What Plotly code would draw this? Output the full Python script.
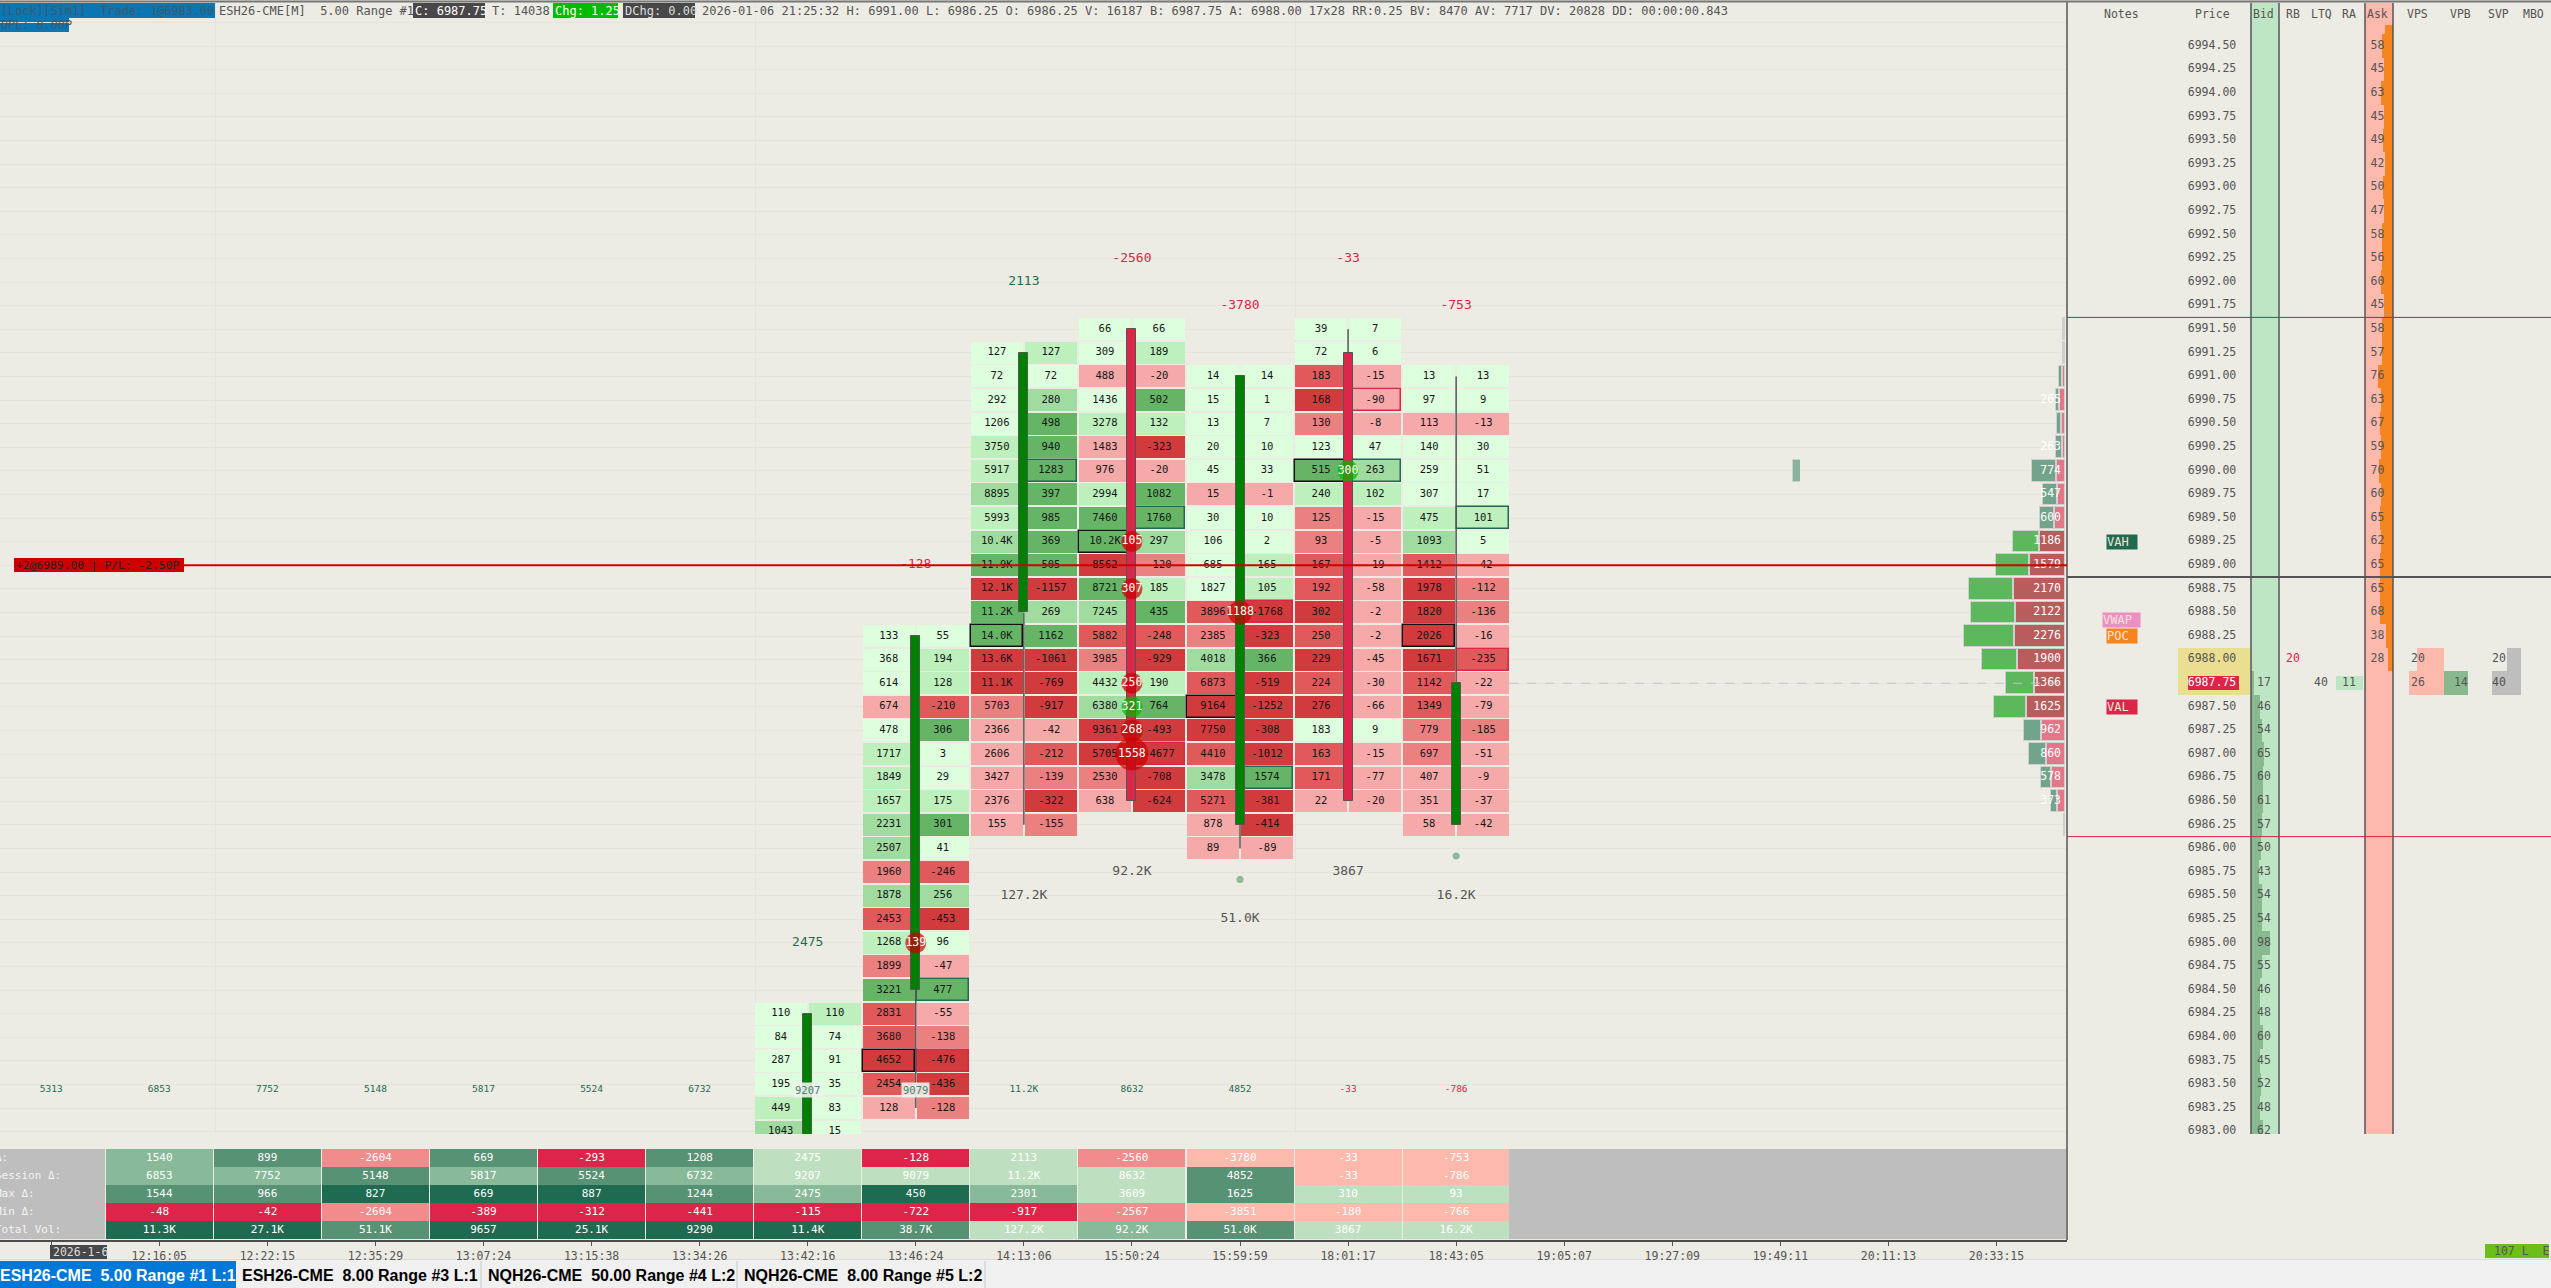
import plotly.graph_objects as go

# ---------- geometry helpers (page pixels -> axis units) ----------
W, H = 2551, 1288
def fx(x): return x / W
def fy(y): return 1 - y / H
def P(y): return 6994.5 - (y - 46) / 23.6 * 0.25
def I(x): return (x - 159.3) / 108.07

MONO = "DejaVu Sans Mono"
BG = "#ECEBE4"
GRID = "#E4E4DC"
DARK = "#555555"
TEAL = "#1F6B52"
CRIMSON = "#DC2549"

# ---------- footprint data ----------
bar6_top = 6984.25
bar6_bid = [110, 84, 287, 195, 449, 1043]
bar6_ask = [110, 74, 91, 35, 83, 15]
bar6_bid_shade = [1, 1, 1, 1, 2, 3]
bar6_ask_shade = [2, 1, 1, 1, 1, 1]

bar7_top = 6988.25
bar7_bid = [133, 368, 614, 674, 478, 1717, 1849, 1657, 2231, 2507, 1960, 1878, 2453, 1268, 1899, 3221, 2831, 3680, 4652, 2454, 128]
bar7_ask = [55, 194, 128, -210, 306, 3, 29, 175, 301, 41, -246, 256, -453, 96, -47, 477, -55, -138, -476, -436, -128]
bar7_bid_shade = [1, 1, 1, -1, 1, 2, 2, 2, 3, 3, -2, 3, -3, 2, -2, 4, -3, -3, -4, -3, -1]
bar7_ask_shade = [1, 2, 2, -3, 4, 1, 1, 2, 4, 1, -3, 3, -4, 1, -1, 4, -1, -2, -4, -4, -2]

bar8_top = 6991.25
bar8_bid = [127, 72, 292, 1206, 3750, 5917, 8895, 5993, "10.4K", "11.9K", "12.1K", "11.2K", "14.0K", "13.6K", "11.1K", 5703, 2366, 2606, 3427, 2376, 155]
bar8_ask = [127, 72, 280, 498, 940, 1283, 397, 985, 369, 505, -1157, 269, 1162, -1061, -769, -917, -42, -212, -139, -322, -155]
bar8_bid_shade = [1, 1, 1, 1, 2, 2, 3, 2, 3, 4, -4, 4, 4, -4, -4, -2, -1, -1, -1, -1, -1]
bar8_ask_shade = [2, 1, 3, 4, 4, 4, 4, 4, 4, 4, -4, 3, 4, -4, -4, -4, -1, -3, -2, -4, -2]

bar9_top = 6991.50
bar9_bid = [66, 309, 488, 1436, 3278, 1483, 976, 2994, 7460, "10.2K", 8562, 8721, 7245, 5882, 3985, 4432, 6380, 9361, 5705, 2530, 638]
bar9_ask = [66, 189, -20, 502, 132, -323, -20, 1082, 1760, 297, -120, 185, 435, -248, -929, 190, 764, -493, -4677, -708, -624]
bar9_bid_shade = [1, 1, -1, 1, 2, -1, -1, 2, 4, 4, -4, 4, 3, -3, -2, 2, 3, -4, -4, -2, -1]
bar9_ask_shade = [1, 2, -1, 4, 2, -4, -1, 4, 4, 3, -2, 2, 4, -3, -4, 2, 4, -4, -4, -4, -4]

bar10_top = 6991.00
bar10_bid = [14, 15, 13, 20, 45, 15, 30, 106, 685, 1827, 3896, 2385, 4018, 6873, 9164, 7750, 4410, 3478, 5271, 878, 89]
bar10_ask = [14, 1, 7, 10, 33, -1, 10, 2, 165, 105, -1768, -323, 366, -519, -1252, -308, -1012, 1574, -381, -414, -89]
bar10_bid_shade = [1, 1, 1, 1, 1, -1, 1, 1, 1, 1, -3, -2, 3, -3, -4, -4, -3, 3, -3, -1, -1]
bar10_ask_shade = [1, 1, 1, 1, 1, -1, 1, 1, 2, 2, -4, -4, 4, -4, -4, -4, -4, 4, -4, -4, -1]

bar11_top = 6991.50
bar11_bid = [39, 72, 183, 168, 130, 123, 515, 240, 125, 93, 167, 192, 302, 250, 229, 224, 276, 183, 163, 171, 22]
bar11_ask = [7, 6, -15, -90, -8, 47, 263, 102, -15, -5, -19, -58, -2, -2, -45, -30, -66, 9, -15, -77, -20]
bar11_bid_shade = [1, 1, -3, -4, -2, 1, 4, 2, -2, -2, -3, -3, -4, -3, -4, -3, -4, 1, -3, -3, -1]
bar11_ask_shade = [1, 1, -1, -1, -1, 1, 3, 2, -1, -1, -1, -1, -1, -1, -1, -1, -1, 1, -1, -1, -1]

bar12_top = 6991.00
bar12_bid = [13, 97, 113, 140, 259, 307, 475, 1093, 1412, 1978, 1820, 2026, 1671, 1142, 1349, 779, 697, 407, 351, 58]
bar12_ask = [13, 9, -13, 30, 51, 17, 101, 5, -42, -112, -136, -16, -235, -22, -79, -185, -51, -9, -37, -42]
bar12_bid_shade = [1, 1, -1, 1, 1, 1, 2, 3, -3, -4, -4, -4, -4, -3, -3, -2, -2, -1, -1, -1]
bar12_ask_shade = [1, 1, -1, 1, 1, 1, 2, 1, -1, -2, -2, -1, -3, -1, -1, -2, -1, -1, -1, -1]

SHADES = {1: "#DDFFDD", 2: "#BDF0BD", 3: "#A0DBA0", 4: "#66B566",
          -1: "#F5A9A9", -2: "#EB8080", -3: "#E05A5C", -4: "#D23B3D"}

# (bar, side, row in bar)
black_boxes = [(7, 0, 18), (8, 0, 12), (9, 0, 9), (10, 0, 14), (11, 0, 6), (12, 0, 11)]
green_boxes = [(7, 1, 15), (8, 1, 5), (9, 1, 8), (10, 1, 17), (11, 1, 6), (12, 1, 6)]
red_boxes = [(7, 1, 18), (9, 1, 18), (10, 1, 10), (11, 1, 3), (12, 1, 12)]

# candles
candle_x = [6, 7, 8, 9, 10, 11, 12]
candle_open = [6982.50, 6984.50, 6988.50, 6991.50, 6986.25, 6991.25, 6986.25]
candle_close = [6984.25, 6988.25, 6991.25, 6986.50, 6991.00, 6986.50, 6987.75]
candle_high = [6984.25, 6988.25, 6991.25, 6991.50, 6991.00, 6991.50, 6991.00]
candle_low = [6982.50, 6983.25, 6986.25, 6986.50, 6986.00, 6986.50, 6986.25]

# big-trade bubbles
bubble_x = [7, 9, 9, 9, 9, 9, 9, 10, 11]
bubble_price = [6985.00, 6989.25, 6988.75, 6987.75, 6987.50, 6987.25, 6987.00, 6988.50, 6990.00]
bubble_text = [139, 105, 307, 250, 321, 268, 1558, 1188, 300]
bubble_up = [0, 0, 0, 0, 1, 0, 0, 0, 1]
bubble_size = [21, 21, 21, 21, 21, 22, 33, 24, 21]

dot_x = [10, 12]
dot_price = [6985.67, 6985.92]

# delta above/below bars
top_x = [6, 7, 8, 9, 10, 11, 12]
top_price = [6985.00, 6989.00, 6992.00, 6992.25, 6991.75, 6992.25, 6991.75]
top_text = [2475, -128, 2113, -2560, -3780, -33, -753]
vol_x = [8, 9, 10, 11, 12]
vol_price = [6985.50, 6985.75, 6985.25, 6985.75, 6985.50]
vol_text = ["127.2K", "92.2K", "51.0K", 3867, "16.2K"]
session_x = [-1, 0, 1, 2, 3, 4, 5, 8, 9, 10, 11, 12]
session_text = [5313, 6853, 7752, 5148, 5817, 5524, 6732, "11.2K", 8632, 4852, -33, -786]
session_price = 6983.44

# bottom table
table_labels = ["\u0394:", "Session \u0394:", "Max \u0394:", "Min \u0394:", "Total Vol:"]
table_delta = [1540, 899, -2604, 669, -293, 1208, 2475, -128, 2113, -2560, -3780, -33, -753]
table_session = [6853, 7752, 5148, 5817, 5524, 6732, 9207, 9079, "11.2K", 8632, 4852, -33, -786]
table_max = [1544, 966, 827, 669, 887, 1244, 2475, 450, 2301, 3609, 1625, 310, 93]
table_min = [-48, -42, -2604, -389, -312, -441, -115, -722, -917, -2567, -3851, -180, -766]
table_vol = ["11.3K", "27.1K", "51.1K", 9657, "25.1K", 9290, "11.4K", "38.7K", "127.2K", "92.2K", "51.0K", 3867, "16.2K"]
TC = {"g1": "#BFE0C0", "g2": "#88B999", "g3": "#589274", "g4": "#1F6B52", "r1": "#FDB9AC", "r2": "#F28B8B", "r3": "#DC2549"}
shade_delta = "g2 g3 r2 g3 r3 g3 g1 r3 g1 r2 r1 r1 r1".split()
shade_session = "g2 g2 g3 g2 g3 g2 g1 g1 g1 g1 g3 r1 r1".split()
shade_max = "g3 g3 g4 g4 g4 g3 g2 g4 g2 g1 g3 g1 g1".split()
shade_min = "r3 r3 r2 r3 r3 r3 r3 r3 r3 r2 r1 r1 r1".split()
shade_vol = "g4 g4 g3 g4 g4 g4 g4 g3 g1 g2 g3 g1 g1".split()

time_labels = ["12:16:05", "12:22:15", "12:35:29", "13:07:24", "13:15:38", "13:34:26", "13:42:16", "13:46:24", "14:13:06",
               "15:50:24", "15:59:59", "18:01:17", "18:43:05", "19:05:07", "19:27:09", "19:49:11", "20:11:13", "20:33:15"]

# profiles
vp_prices = [6991.50, 6991.25, 6991.00, 6990.75, 6990.50, 6990.25, 6990.00, 6989.75, 6989.50, 6989.25, 6989.00,
             6988.75, 6988.50, 6988.25, 6988.00, 6987.75, 6987.50, 6987.25, 6987.00, 6986.75, 6986.50, 6986.25]
vp_delta = [4, 4, -4, -77, -15, 73, 314, 116, 81, 2, -56, -168, -135, -13, -280, -48, -141, -172, -62, -81, -52, -37]
vp_ask = [45, 45, 46, 114, 68, 46, 182, 160, 228, 570, 797, 1162, 1116, 1139, 1071, 683, 866, 524, 410, 296, 160, 34]
vp_bid = [0, 0, 68, 68, 91, 137, 547, 319, 319, 592, 752, 1002, 1002, 1139, 797, 638, 729, 387, 387, 228, 137, 0]
vp_total = ["", "", "", 265, "", 263, 774, 547, 600, 1186, 1579, 2170, 2122, 2276, 1900, 1366, 1625, 962, 860, 578, 373, ""]
vp_in_value_area = [0, 0, 0, 0, 0, 0, 0, 0, 0, 1, 1, 1, 1, 1, 1, 1, 1, 0, 0, 0, 0, 0]
vp_delta_labels = {6990.00: "314", 6988.00: "-280"}

# ladder
ladder_prices = [6994.75 - 0.25 * k for k in range(48)]
ask_prices = [6994.75, 6994.50, 6994.25, 6994.00, 6993.75, 6993.50, 6993.25, 6993.00, 6992.75, 6992.50, 6992.25, 6992.00, 6991.75, 6991.50,
              6991.25, 6991.00, 6990.75, 6990.50, 6990.25, 6990.00, 6989.75, 6989.50, 6989.25, 6989.00, 6988.75, 6988.50, 6988.25, 6988.00]
ask_sizes = [41, 58, 45, 63, 45, 49, 42, 50, 47, 58, 56, 60, 45, 58, 57, 76, 63, 67, 59, 70, 60, 65, 62, 65, 65, 68, 38, 28]
bid_prices = [6987.75, 6987.50, 6987.25, 6987.00, 6986.75, 6986.50, 6986.25, 6986.00, 6985.75, 6985.50, 6985.25, 6985.00,
              6984.75, 6984.50, 6984.25, 6984.00, 6983.75, 6983.50, 6983.25, 6983.00]
bid_sizes = [17, 46, 54, 65, 60, 61, 57, 50, 43, 54, 54, 98, 55, 46, 48, 60, 45, 52, 48, 62]
header_labels = ["Notes", "Price", "Bid", "RB", "LTQ", "RA", "Ask", "VPS", "VPB", "SVP", "MBO"]
header_x = [2121, 2212, 2263, 2293, 2321, 2349, 2377, 2417, 2460, 2498, 2533]
vps_prices = [6988.00, 6987.75]
vps_sizes = [20, 26]
vpb_sizes = [14]
svp_prices = [6988.00, 6987.75]
svp_sizes = [20, 40]
note_text = ["VAH", "VWAP", "POC", "VAL"]
note_price = [6989.25, 6988.42, 6988.25, 6987.50]
note_color = [TEAL, "#EE8FC3", "#F6841F", CRIMSON]

tab_labels = ["ESH26-CME  5.00 Range #1 L:1", "ESH26-CME  8.00 Range #3 L:1", "NQH26-CME  50.00 Range #4 L:2", "NQH26-CME  8.00 Range #5 L:2"]

# ---------- figure ----------
fig = go.Figure()
shapes, notes = [], []

def paper_rect(x0, y0, x1, y1, color, layer="below"):
    shapes.append(dict(type="rect", xref="paper", yref="paper", x0=fx(x0), x1=fx(x1), y0=fy(y0), y1=fy(y1),
                       fillcolor=color, line_width=0, layer=layer))

def page_text(text, x, y, size=12, color=DARK, anchor="left", family=MONO, bold=False):
    t = f"<b>{text}</b>" if bold else text
    notes.append(dict(text=t, xref="paper", yref="paper", x=fx(x), y=fy(y), xanchor=anchor, yanchor="middle",
                      showarrow=False, font=dict(family=family, size=size, color=color), borderpad=0))

# footprint cells
CELL_W = 52 / 108.07
CELL_OFF = 27 / 108.07
CELL_H = 0.233
footprint = [
    (6, bar6_top, bar6_bid, bar6_ask, bar6_bid_shade, bar6_ask_shade),
    (7, bar7_top, bar7_bid, bar7_ask, bar7_bid_shade, bar7_ask_shade),
    (8, bar8_top, bar8_bid, bar8_ask, bar8_bid_shade, bar8_ask_shade),
    (9, bar9_top, bar9_bid, bar9_ask, bar9_bid_shade, bar9_ask_shade),
    (10, bar10_top, bar10_bid, bar10_ask, bar10_bid_shade, bar10_ask_shade),
    (11, bar11_top, bar11_bid, bar11_ask, bar11_bid_shade, bar11_ask_shade),
    (12, bar12_top, bar12_bid, bar12_ask, bar12_bid_shade, bar12_ask_shade),
]
box_color = {}
for b in black_boxes: box_color[b] = "#111111"
for b in green_boxes: box_color[b] = TEAL
for b in red_boxes: box_color[b] = CRIMSON

cx, cbase, ccol, ctext, ctexty, ctextx, lcol, lw = [], [], [], [], [], [], [], []
for bar, top, bid, ask, sb, sa in footprint:
    for side, (vals, shade) in enumerate(((bid, sb), (ask, sa))):
        for r, (v, s) in enumerate(zip(vals, shade)):
            price = top - 0.25 * r
            x = bar + (CELL_OFF if side else -CELL_OFF)
            cx.append(x)
            cbase.append(price - CELL_H / 2)
            ccol.append(SHADES[s])
            ctext.append(str(v))
            ctextx.append(x)
            ctexty.append(price)
            key = (bar, side, r)
            lcol.append(box_color.get(key, "rgba(0,0,0,0)"))
            lw.append(1.5 if key in box_color else 0)

fig.add_trace(go.Bar(x=cx, y=[CELL_H] * len(cx), base=cbase, width=CELL_W, marker=dict(color=ccol, line=dict(color=lcol, width=lw)),
                     xaxis="x", yaxis="y"))
# candle bodies
fig.add_trace(go.Bar(x=candle_x, y=[abs(c - o) for o, c in zip(candle_open, candle_close)],
                     base=[min(o, c) for o, c in zip(candle_open, candle_close)], width=9 / 108.07,
                     marker=dict(color=["#008000" if c > o else "#DB2549" for o, c in zip(candle_open, candle_close)],
                                 line=dict(color=DARK, width=1)), xaxis="x", yaxis="y"))
# wicks
wx, wy = [], []
for x, o, c, h, l in zip(candle_x, candle_open, candle_close, candle_high, candle_low):
    wx += [x, x, None, x, x, None]
    wy += [h, max(o, c), None, min(o, c), l, None]
fig.add_trace(go.Scatter(x=wx, y=wy, mode="lines", line=dict(color=DARK, width=1.5), xaxis="x", yaxis="y"))
# cell text
fig.add_trace(go.Scatter(x=ctextx, y=ctexty, mode="text", text=ctext, textposition="middle center",
                         textfont=dict(family=MONO, size=10.5, color="#151515"), xaxis="x", yaxis="y"))
# bubbles
fig.add_trace(go.Scatter(x=bubble_x, y=bubble_price, mode="markers+text", text=[str(t) for t in bubble_text], textposition="middle center",
                         textfont=dict(family=MONO, size=11.5, color="white"),
                         marker=dict(size=bubble_size, color=["#00BB00" if u else "#CC0000" for u in bubble_up], line_width=0),
                         xaxis="x", yaxis="y"))
fig.add_trace(go.Scatter(x=dot_x, y=dot_price, mode="markers", marker=dict(size=7, color="#8BB999", line_width=0), xaxis="x", yaxis="y"))
# labels around bars
fig.add_trace(go.Scatter(x=top_x, y=top_price, mode="text", text=[str(t) for t in top_text], textposition="middle center",
                         textfont=dict(family=MONO, size=13, color=[CRIMSON if t < 0 else TEAL for t in top_text]), xaxis="x", yaxis="y"))
fig.add_trace(go.Scatter(x=vol_x, y=vol_price, mode="text", text=[str(t) for t in vol_text], textposition="middle center",
                         textfont=dict(family=MONO, size=13, color=DARK), xaxis="x", yaxis="y"))
fig.add_trace(go.Scatter(x=session_x, y=[session_price] * len(session_x), mode="text", text=[str(t) for t in session_text], textposition="middle center",
                         textfont=dict(family=MONO, size=9.5, color=[CRIMSON if str(t).startswith("-") else TEAL for t in session_text]),
                         xaxis="x", yaxis="y"))
for x, t in ((6, table_session[6]), (7, table_session[7])):
    notes.append(dict(text=str(t), xref="x", yref="y", x=x, y=session_price, showarrow=False, bgcolor="rgba(238,241,236,0.9)",
                      font=dict(family=MONO, size=10.5, color="#4A8572"), borderpad=1))

# table
rows = [(table_delta, shade_delta), (table_session, shade_session), (table_max, shade_max), (table_min, shade_min), (table_vol, shade_vol)]
tx, ty, tcol, tt = [], [], [], []
for k, (vals, shade) in enumerate(rows):
    for j, (v, s) in enumerate(zip(vals, shade)):
        tx.append(j); ty.append(k + 0.5); tcol.append(TC[s]); tt.append(str(v))
fig.add_trace(go.Bar(x=tx, y=[0.95] * len(tx), base=[b - 0.475 for b in ty], width=107 / 108.07, marker=dict(color=tcol, line_width=0),
                     xaxis="x", yaxis="y3"))
for (x0, x1) in ((0, 105), (1509, 2066)):
    fig.add_trace(go.Bar(x=[(I(x0) + I(x1)) / 2] * 5, y=[0.95] * 5, base=[k + 0.025 for k in range(5)], width=I(x1) - I(x0),
                         marker=dict(color="#BEBEBE", line_width=0), xaxis="x", yaxis="y3"))
fig.add_trace(go.Scatter(x=tx, y=ty, mode="text", text=tt, textposition="middle center",
                         textfont=dict(family=MONO, size=11, color="white"), xaxis="x", yaxis="y3"))
for k, lab in enumerate(table_labels):
    page_text(lab, -6, 1149 + 18 * k + 8.5, size=11, color="#F4F4F4")

# delta profile
fig.add_trace(go.Bar(y=vp_prices, x=[abs(v) for v in vp_delta], orientation="h", width=0.23,
                     marker=dict(color=["#7B7BC8" if v == 2 else ("#8AB39F" if v > 0 else "#E0848F") for v in vp_delta],
                                 line=dict(color="#CFCFCF", width=1)), xaxis="x4", yaxis="y"))
lab_p = list(vp_delta_labels)
fig.add_trace(go.Scatter(x=[8] * len(lab_p), y=lab_p, mode="text", text=[vp_delta_labels[p] for p in lab_p], textposition="middle left",
                         textfont=dict(family=MONO, size=11.5, color="white"), xaxis="x4", yaxis="y"))
# volume profile
GAP = 30
fig.add_trace(go.Bar(y=vp_prices, x=vp_ask, orientation="h", width=0.23,
                     marker=dict(color=["#CFCFCF" if b == 0 and a == 45 else ("#B85C5C" if va else "#E3778A") for a, b, va in zip(vp_ask, vp_bid, vp_in_value_area)],
                                 line=dict(color="#CFCFCF", width=1)), xaxis="x5", yaxis="y"))
fig.add_trace(go.Bar(y=vp_prices, x=vp_bid, base=[a + GAP for a in vp_ask], orientation="h", width=0.23,
                     marker=dict(color=["#5DB85D" if va else "#72A48C" for va in vp_in_value_area], line=dict(color="#CFCFCF", width=[1 if b else 0 for b in vp_bid])),
                     xaxis="x5", yaxis="y"))
fig.add_trace(go.Scatter(x=[90] * len(vp_prices), y=vp_prices, mode="text", text=[str(t) for t in vp_total], textposition="middle left",
                         textfont=dict(family=MONO, size=11.5, color="white"), xaxis="x5", yaxis="y"))

# ladder
LH = 0.25
fig.add_trace(go.Bar(y=bid_prices, x=[v * 0.195 for v in bid_sizes], base=2251, orientation="h", width=LH,
                     marker=dict(color="#88B98F", line_width=0), xaxis="x2", yaxis="y2"))
fig.add_trace(go.Bar(y=ask_prices, x=[v * 0.195 for v in ask_sizes], base=[2393 - v * 0.195 for v in ask_sizes], orientation="h", width=LH,
                     marker=dict(color="#F6841F", line_width=0), xaxis="x2", yaxis="y2"))
fig.add_trace(go.Bar(y=[6987.875], x=[72], base=2178, orientation="h", width=0.5, marker=dict(color="#EADF90", line_width=0), xaxis="x2", yaxis="y2"))
fig.add_trace(go.Bar(y=[6987.75], x=[51], base=2188, orientation="h", width=0.148, marker=dict(color=CRIMSON, line_width=0), xaxis="x2", yaxis="y2"))
fig.add_trace(go.Bar(y=[6987.75], x=[27], base=2336, orientation="h", width=0.148, marker=dict(color="#BFE6C4", line_width=0), xaxis="x2", yaxis="y2"))
fig.add_trace(go.Bar(y=vps_prices, x=[v * 1.35 for v in vps_sizes], base=[2444 - v * 1.35 for v in vps_sizes], orientation="h", width=LH,
                     marker=dict(color="#FDB9AC", line_width=0), xaxis="x2", yaxis="y2"))
fig.add_trace(go.Bar(y=[6987.75], x=[v * 1.72 for v in vpb_sizes], base=2444, orientation="h", width=LH,
                     marker=dict(color="#88B98F", line_width=0), xaxis="x2", yaxis="y2"))
fig.add_trace(go.Bar(y=svp_prices, x=[v * 0.72 for v in svp_sizes], base=[2521 - v * 0.72 for v in svp_sizes], orientation="h", width=LH,
                     marker=dict(color="#BEBEBE", line_width=0), xaxis="x2", yaxis="y2"))
fig.add_trace(go.Scatter(x=[2212] * len(ladder_prices), y=ladder_prices, mode="text", text=[f"{p:.2f}" for p in ladder_prices], textposition="middle center",
                         textfont=dict(family=MONO, size=11.5, color=["white" if p == 6987.75 else DARK for p in ladder_prices]), xaxis="x2", yaxis="y2"))
fig.add_trace(go.Scatter(x=[2264] * len(bid_prices), y=bid_prices, mode="text", text=[str(v) for v in bid_sizes], textposition="middle center",
                         textfont=dict(family=MONO, size=11.5, color=DARK), xaxis="x2", yaxis="y2"))
fig.add_trace(go.Scatter(x=[2377.5] * len(ask_prices), y=ask_prices, mode="text", text=[str(v) for v in ask_sizes], textposition="middle center",
                         textfont=dict(family=MONO, size=11.5, color=DARK), xaxis="x2", yaxis="y2"))
fig.add_trace(go.Scatter(x=[2293], y=[6988.00], mode="text", text=["20"], textfont=dict(family=MONO, size=11.5, color=CRIMSON), xaxis="x2", yaxis="y2"))
fig.add_trace(go.Scatter(x=[2321, 2349, 2418, 2418, 2461, 2499, 2499], y=[6987.75, 6987.75, 6988.00, 6987.75, 6987.75, 6988.00, 6987.75],
                         mode="text", text=["40", "11", "20", "26", "14", "20", "40"], textfont=dict(family=MONO, size=11.5, color=DARK), xaxis="x2", yaxis="y2"))
# level lines across the ladder
for price, col, wid in ((6991.625, TEAL, 1), (6986.125, CRIMSON, 1), (6988.875, DARK, 2)):
    fig.add_trace(go.Scatter(x=[2067, 2551], y=[price, price], mode="lines", line=dict(color=col, width=wid), xaxis="x2", yaxis="y2"))
for t, p, c in zip(note_text, note_price, note_color):
    wid = 37 if t == "VWAP" else 30
    notes.append(dict(text=t, xref="x2", yref="y2", x=2121.5 if t == "VWAP" else 2122, y=p, showarrow=False, bgcolor=c, width=wid, height=14,
                      font=dict(family=MONO, size=12, color="#F4E4D8"), borderpad=0, align="left"))

# ladder column backgrounds and rules
def column(x0, x1, color):
    shapes.append(dict(type="rect", xref="x2", yref="paper", x0=x0, x1=x1, y0=fy(1134), y1=fy(3), fillcolor=color, line_width=0, layer="below"))
column(2251, 2279, "#BFE6C4")
column(2365, 2393, "#FDB9AC")
for x in (2251, 2279, 2365, 2393):
    shapes.append(dict(type="line", xref="x2", yref="paper", x0=x, x1=x, y0=fy(1134), y1=fy(3), line=dict(color=DARK, width=1.5), layer="above"))
shapes.append(dict(type="line", xref="paper", yref="paper", x0=fx(2067), x1=fx(2067), y0=fy(1240), y1=fy(2), line=dict(color=DARK, width=1.5), layer="above"))
shapes.append(dict(type="line", xref="paper", yref="paper", x0=0, x1=1, y0=fy(1.5), y1=fy(1.5), line=dict(color="#777777", width=2), layer="above"))

# position and last-price lines
shapes.append(dict(type="line", xref="paper", yref="y", x0=fx(184), x1=fx(2067), y0=6989.00, y1=6989.00, line=dict(color="#CC0000", width=2), layer="above"))
shapes.append(dict(type="line", xref="paper", yref="y", x0=fx(1509), x1=fx(2066), y0=6987.75, y1=6987.75, line=dict(color="#C4C4C0", width=1, dash="dash"), layer="above"))
paper_rect(14, 558, 184, 572, "#CC0000", layer="above")
page_text("+2@6989.00 | P/L: -2.50P", 15, 565, size=11.3, color="#222222")

for i, t in enumerate(header_labels):
    page_text(t, header_x[i], 14, size=11.5, anchor="center")

# header strip
paper_rect(0, 3, 216, 18, "#0A76B4")
paper_rect(0, 18, 69, 32, "#0A76B4")
paper_rect(413, 3, 485, 18, "#484848")
paper_rect(553, 3, 618, 18, "#00BB00")
paper_rect(623, 3, 695, 18, "#484848")
page_text("[Lock][Sim1]  Trade: 1@6983.00", 0, 11, size=11.8, color="#3A5A6C")
page_text("OPL: 0.00P", 0, 25, size=11.8, color="#3A5A6C")
page_text("ESH26-CME[M]  5.00 Range #1", 218, 11, size=12)
page_text("C: 6987.75", 414, 11, size=12, color="white")
page_text("T: 14038", 491, 11, size=12)
page_text("Chg: 1.25", 554, 11, size=12, color="white")
page_text("DChg: 0.00", 624, 11, size=12, color="#DDDDDD")
page_text("2026-01-06 21:25:32 H: 6991.00 L: 6986.25 O: 6986.25 V: 16187 B: 6987.75 A: 6988.00 17x28 RR:0.25 BV: 8470 AV: 7717 DV: 20828 DD: 00:00:00.843",
          701, 11, size=12)

# time axis date + footer
paper_rect(50, 1245, 107, 1259, "#484848")
page_text("2026-1-6", 52, 1252, size=11.5, color="#DDDDDD")
paper_rect(2485, 1244, 2549, 1258, "#6CBF1B")
page_text("107 L  E", 2493, 1251, size=11.5)
paper_rect(0, 1260, W, H, "#F0F0F0")
shapes.append(dict(type="line", xref="paper", yref="paper", x0=0, x1=1, y0=fy(1259.5), y1=fy(1259.5), line=dict(color="#DCDCDC", width=1), layer="below"))
paper_rect(0, 1261, 236, H, "#0078D7")
for x in (481, 737, 985):
    shapes.append(dict(type="line", xref="paper", yref="paper", x0=fx(x), x1=fx(x), y0=fy(1261), y1=0, line=dict(color="#C8C8C8", width=1), layer="below"))
for t, x, col in zip(tab_labels, (-1, 241, 487, 743), ("white", "black", "black", "black")):
    page_text(t, x, 1275, size=16, color=col, family="Liberation Sans", bold=True)

# axes
PRICE_TOP_MAIN, PRICE_BOT = P(3), P(1134)
fig.update_layout(
    width=W, height=H, margin=dict(l=0, r=0, t=0, b=0), autosize=False,
    paper_bgcolor=BG, plot_bgcolor=BG, showlegend=False, hovermode=False, barmode="overlay", bargap=0,
    font=dict(family=MONO, color=DARK),
    shapes=shapes, annotations=notes,
    xaxis=dict(domain=[0, fx(2067)], range=[I(0), I(2067)], anchor="y3",
               tickmode="array", tickvals=[-1] + list(range(18)), ticktext=[""] + time_labels,
               tickfont=dict(family=MONO, size=11.5, color=DARK), ticks="outside", ticklen=4, tickwidth=1, tickcolor=DARK,
               showline=True, linecolor="#4D4D4D", linewidth=2, showgrid=False, zeroline=False, tickangle=0,
               minor=dict(tickmode="array", tickvals=[I(215), I(755), I(1295), I(1835)], showgrid=True, gridcolor=GRID, gridwidth=1, ticks="")),
    yaxis=dict(domain=[fy(1134), fy(3)], range=[PRICE_BOT, PRICE_TOP_MAIN], anchor="x", tickmode="linear", tick0=6983, dtick=0.25,
               showticklabels=False, ticks="", showgrid=True, gridcolor=GRID, gridwidth=1, zeroline=False, showline=False),
    yaxis3=dict(domain=[fy(1240), fy(1149)], range=[91 / 18, 0], anchor="x", visible=False),
    xaxis2=dict(domain=[fx(2067), 1], range=[2067, 2551], anchor="y2", visible=False),
    yaxis2=dict(domain=[fy(1134), fy(25)], range=[PRICE_BOT, P(25)], anchor="x2", visible=False),
    xaxis4=dict(domain=[fx(1700), fx(1956)], range=[256 / 0.519, 0], anchor="y", visible=False),
    xaxis5=dict(domain=[fx(1800), fx(2065)], range=[265 / 0.0439, 0], anchor="y", visible=False),
)
for tr in fig.data:
    tr.showlegend = False
    tr.hoverinfo = "skip"
    if isinstance(tr, go.Scatter):
        tr.cliponaxis = True

fig.write_html("out.html", config={"displayModeBar": False}, post_script="document.body.style.margin='0';")
